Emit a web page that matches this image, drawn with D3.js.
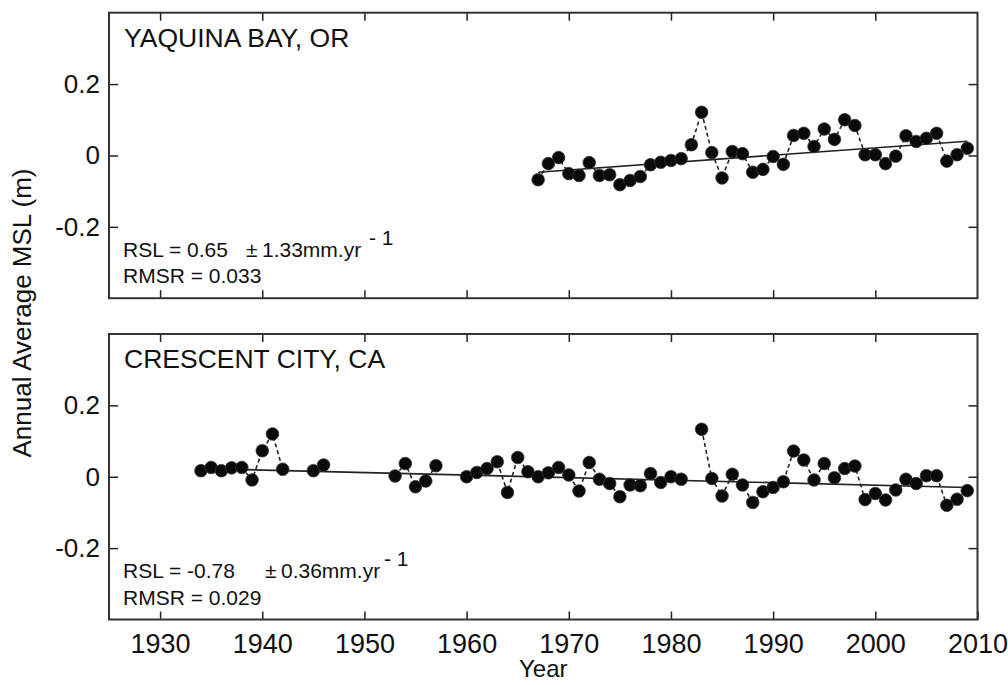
<!DOCTYPE html>
<html>
<head>
<meta charset="utf-8">
<script src="https://cdn.jsdelivr.net/npm/d3@7"></script>
<style>
  body { margin: 0; background: #fff; }
  svg { display: block; font-family: "Liberation Sans", Arial, sans-serif; }
</style>
</head>
<body>
<svg id="chart" width="1008" height="685"></svg>
<script>
// Yaquina Bay, OR annual mean sea level (m)
const yaquinaYears = [1967, 1968, 1969, 1970, 1971, 1972, 1973, 1974, 1975, 1976, 1977, 1978, 1979, 1980, 1981,
    1982, 1983, 1984, 1985, 1986, 1987, 1988, 1989, 1990, 1991, 1992, 1993, 1994, 1995, 1996, 1997, 1998,
    1999, 2000, 2001, 2002, 2003, 2004, 2005, 2006, 2007, 2008, 2009];
const yaquinaValues = [-0.068, -0.023, -0.006, -0.051, -0.056, -0.020, -0.056, -0.054, -0.082, -0.070, -0.059,
    -0.026, -0.019, -0.014, -0.009, 0.030, 0.121, 0.008, -0.063, 0.011, 0.005, -0.047, -0.039, -0.003, -0.025,
    0.056, 0.062, 0.025, 0.074, 0.045, 0.100, 0.084, 0.002, 0.002, -0.023, -0.002, 0.055, 0.039, 0.048, 0.062,
    -0.016, 0.002, 0.020];
const yaquinaTrendYears = [1967, 2009];
const yaquinaTrendValues = [-0.047, 0.040];

// Crescent City, CA annual mean sea level (m)
const crescentYears = [1934, 1935, 1936, 1937, 1938, 1939, 1940, 1941, 1942, 1945, 1946, 1953, 1954, 1955, 1956,
    1957, 1960, 1961, 1962, 1963, 1964, 1965, 1966, 1967, 1968, 1969, 1970, 1971, 1972, 1973, 1974, 1975,
    1976, 1977, 1978, 1979, 1980, 1981, 1983, 1984, 1985, 1986, 1987, 1988, 1989, 1990, 1991, 1992, 1993,
    1994, 1995, 1996, 1997, 1998, 1999, 2000, 2001, 2002, 2003, 2004, 2005, 2006, 2007, 2008, 2009];
const crescentValues = [0.017, 0.026, 0.017, 0.025, 0.026, -0.009, 0.073, 0.120, 0.021, 0.017, 0.033, 0.002,
    0.037, -0.028, -0.012, 0.031, 0.000, 0.012, 0.023, 0.042, -0.044, 0.054, 0.014, 0.000, 0.011, 0.026,
    0.005, -0.040, 0.040, -0.007, -0.019, -0.056, -0.023, -0.025, 0.009, -0.016, 0.000, -0.007, 0.133,
    -0.005, -0.054, 0.007, -0.023, -0.072, -0.042, -0.030, -0.014, 0.072, 0.047, -0.009, 0.037, -0.003,
    0.023, 0.030, -0.064, -0.047, -0.065, -0.037, -0.007, -0.019, 0.003, 0.003, -0.080, -0.063, -0.039];
const crescentTrendYears = [1934, 2009];
const crescentTrendValues = [0.023, -0.030];

const xTicks = [1930, 1940, 1950, 1960, 1970, 1980, 1990, 2000, 2010];
const yTicks = [-0.2, 0, 0.2];
const yTickLabels = ["-0.2", "0", "0.2"];

const panels = [
    { title: "YAQUINA BAY, OR", years: yaquinaYears, values: yaquinaValues,
      trendYears: yaquinaTrendYears, trendValues: yaquinaTrendValues,
      rsl: "RSL = 0.65", err: "1.33mm.yr", rmsr: "RMSR = 0.033", errX: 262, supX: 369, top: 12.7 },
    { title: "CRESCENT CITY, CA", years: crescentYears, values: crescentValues,
      trendYears: crescentTrendYears, trendValues: crescentTrendValues,
      rsl: "RSL = -0.78", err: "0.36mm.yr", rmsr: "RMSR = 0.029", errX: 281, supX: 384, top: 334 }
];

const svg = d3.select("#chart");
const left = 109, right = 977.5, panelH = 285.5;
const ink = "#222";

const x = d3.scaleLinear().domain([1925, 2010]).range([left, right]);

panels.forEach((p, i) => {
    const y = d3.scaleLinear().domain([-0.4, 0.4]).range([p.top + panelH, p.top]);
    const g = svg.append("g");
    const last = i === panels.length - 1;

    // inward ticks on all four sides
    g.append("g")
        .attr("transform", `translate(0,${p.top + panelH})`)
        .call(d3.axisBottom(x).tickValues(last ? xTicks : xTicks.slice(0, -1))
            .tickSizeInner(-8).tickSizeOuter(0).tickPadding(14)
            .tickFormat(last ? d3.format("d") : ""))
        .call(a => a.select(".domain").remove())
        .call(a => a.selectAll("text").attr("font-size", 27).attr("fill", "#111").attr("font-family", null))
        .call(a => a.selectAll("line").attr("stroke", ink).attr("stroke-width", 1.5));

    g.append("g")
        .attr("transform", `translate(0,${p.top})`)
        .call(d3.axisTop(x).tickValues(xTicks.slice(0, -1)).tickSizeInner(-8).tickSizeOuter(0).tickFormat(""))
        .call(a => a.select(".domain").remove())
        .call(a => a.selectAll("line").attr("stroke", ink).attr("stroke-width", 1.5));

    g.append("g")
        .attr("transform", `translate(${left},0)`)
        .call(d3.axisLeft(y).tickValues(yTicks).tickSizeInner(-9).tickSizeOuter(0).tickPadding(9)
            .tickFormat((d, k) => yTickLabels[k]))
        .call(a => a.select(".domain").remove())
        .call(a => a.selectAll("text").attr("font-size", 26).attr("fill", "#111").attr("font-family", null))
        .call(a => a.selectAll("line").attr("stroke", ink).attr("stroke-width", 1.5));

    g.append("g")
        .attr("transform", `translate(${right},0)`)
        .call(d3.axisRight(y).tickValues(yTicks).tickSizeInner(-9).tickSizeOuter(0).tickFormat(""))
        .call(a => a.select(".domain").remove())
        .call(a => a.selectAll("line").attr("stroke", ink).attr("stroke-width", 1.5));

    // frame
    g.append("rect")
        .attr("x", left).attr("y", p.top)
        .attr("width", right - left).attr("height", panelH)
        .attr("fill", "none").attr("stroke", "#333").attr("stroke-width", 2);

    // dashed line joining consecutive years only
    const pts = p.years.map((yr, k) => ({ year: yr, value: p.values[k] }));
    const segs = [];
    pts.forEach((d, k) => {
        if (k > 0 && d.year - pts[k - 1].year === 1) segs[segs.length - 1].push(d);
        else segs.push([d]);
    });
    const line = d3.line().x(d => x(d.year)).y(d => y(d.value));
    g.append("g").selectAll("path")
        .data(segs.filter(s => s.length > 1))
        .enter().append("path")
        .attr("d", line)
        .attr("fill", "none")
        .attr("stroke", ink)
        .attr("stroke-width", 1.6)
        .attr("stroke-dasharray", "4,3");

    // trend line
    g.append("path")
        .datum(p.trendYears.map((yr, k) => ({ year: yr, value: p.trendValues[k] })))
        .attr("d", line)
        .attr("fill", "none")
        .attr("stroke", ink)
        .attr("stroke-width", 1.6);

    g.append("g").selectAll("circle")
        .data(pts)
        .enter().append("circle")
        .attr("cx", d => x(d.year))
        .attr("cy", d => y(d.value))
        .attr("r", 6.3)
        .attr("fill", "#0a0a0a")
        .attr("stroke", "#333")
        .attr("stroke-width", 0.8);

    // labels
    g.append("text")
        .attr("x", 124).attr("y", p.top + 34)
        .attr("font-size", 26.5).attr("fill", "#111")
        .text(p.title);

    const ann = g.append("g").attr("font-size", 21).attr("fill", "#111");
    ann.append("text").attr("x", 123).attr("y", p.top + 244).text(p.rsl);
    ann.append("text").attr("x", p.errX - 16).attr("y", p.top + 244).text("\u00b1");
    ann.append("text").attr("x", p.errX).attr("y", p.top + 244).text(p.err);
    ann.append("text").attr("x", p.supX).attr("y", p.top + 232).text("- 1");
    ann.append("text").attr("x", 123).attr("y", p.top + 270.5).text(p.rmsr);
});

svg.append("text")
    .attr("x", (left + right) / 2).attr("y", 677)
    .attr("text-anchor", "middle")
    .attr("font-size", 24).attr("fill", "#111")
    .text("Year");

svg.append("text")
    .attr("transform", "translate(31,313) rotate(-90)")
    .attr("text-anchor", "middle")
    .attr("font-size", 26).attr("fill", "#111")
    .text("Annual Average MSL (m)");
</script>
</body>
</html>
